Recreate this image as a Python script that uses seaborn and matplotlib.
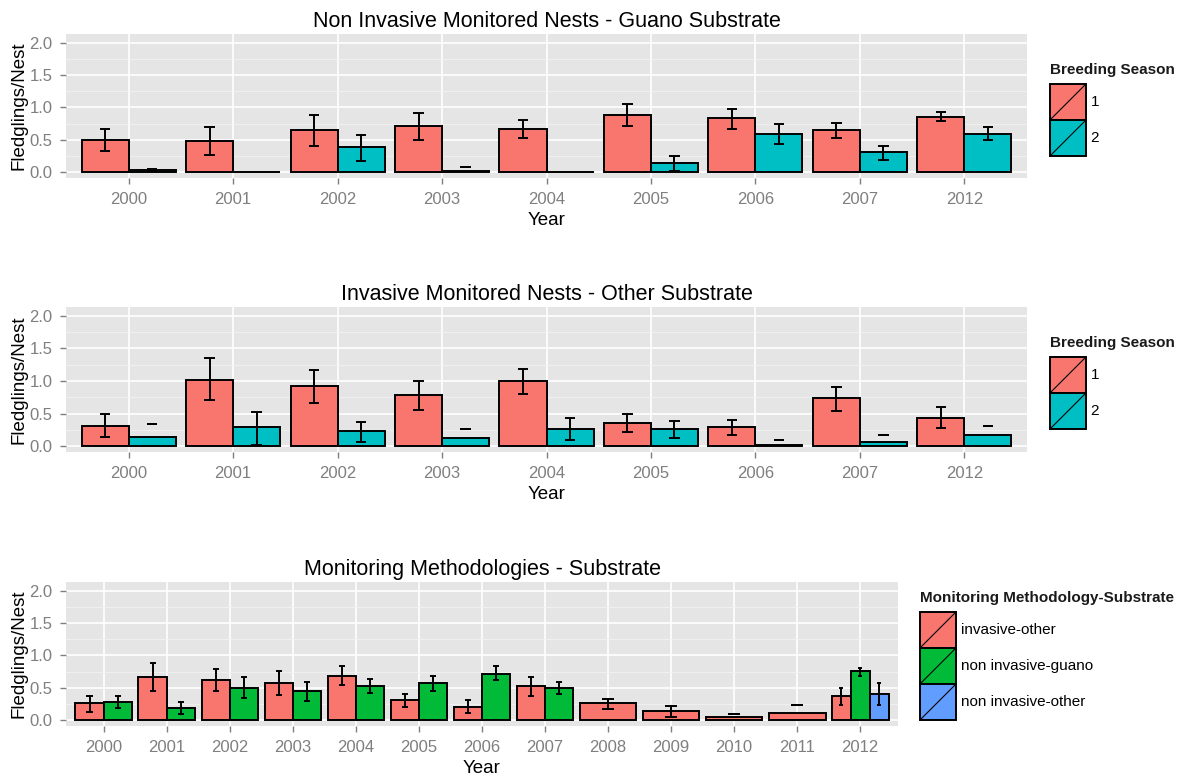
import numpy as np
import pandas as pd
import matplotlib
matplotlib.use("Agg")
import matplotlib.pyplot as plt
from matplotlib.legend_handler import HandlerBase
from matplotlib.patches import Rectangle, Patch
from matplotlib.lines import Line2D
from matplotlib.ticker import MultipleLocator, FormatStrFormatter
import seaborn as sns

nan = np.nan

# ---- Non invasive monitored nests, guano substrate ----
years_a = ["2000", "2001", "2002", "2003", "2004", "2005", "2006", "2007", "2012"]
guano_s1 = [0.50, 0.48, 0.65, 0.72, 0.67, 0.88, 0.84, 0.65, 0.86]
guano_s1_lo = [0.33, 0.27, 0.41, 0.50, 0.535, 0.715, 0.668, 0.53, 0.787]
guano_s1_hi = [0.67, 0.70, 0.884, 0.91, 0.80, 1.054, 0.982, 0.766, 0.936]
guano_s2 = [0.026, 0.0, 0.386, 0.025, 0.0, 0.144, 0.596, 0.314, 0.596]
guano_s2_lo = [0.02, nan, 0.17, 0.077, nan, 0.02, 0.43, 0.19, 0.504]
guano_s2_hi = [0.055, nan, 0.576, 0.077, nan, 0.247, 0.74, 0.41, 0.694]

# ---- Invasive monitored nests, other substrate ----
other_s1 = [0.308, 1.02, 0.923, 0.785, 0.995, 0.354, 0.287, 0.738, 0.431]
other_s1_lo = [0.144, 0.713, 0.662, 0.549, 0.805, 0.21, 0.164, 0.544, 0.282]
other_s1_hi = [0.497, 1.354, 1.164, 1.0, 1.185, 0.497, 0.405, 0.903, 0.595]
other_s2 = [0.144, 0.287, 0.236, 0.118, 0.256, 0.262, 0.022, 0.067, 0.164]
other_s2_lo = [0.333, 0.02, 0.067, 0.256, 0.092, 0.118, 0.097, 0.17, 0.308]
other_s2_hi = [0.333, 0.518, 0.374, 0.256, 0.426, 0.38, 0.097, 0.17, 0.308]

# ---- Monitoring methodology / substrate ----
years_b = ["2000", "2001", "2002", "2003", "2004", "2005", "2006",
           "2007", "2008", "2009", "2010", "2011", "2012"]
inv_other = [0.262, 0.663, 0.617, 0.571, 0.689, 0.308, 0.211, 0.524,
             0.262, 0.144, 0.046, 0.118, 0.38]
inv_other_lo = [0.123, 0.447, 0.447, 0.39, 0.54, 0.211, 0.118, 0.375,
                0.165, 0.046, 0.093, 0.237, 0.231]
inv_other_hi = [0.38, 0.879, 0.787, 0.761, 0.833, 0.406, 0.308, 0.668,
                0.334, 0.216, 0.093, 0.237, 0.499]
years_ng = ["2000", "2001", "2002", "2003", "2004", "2005", "2006", "2007", "2012"]
noninv_guano = [0.288, 0.19, 0.5, 0.452, 0.524, 0.571, 0.715, 0.5, 0.761]
noninv_guano_lo = [0.185, 0.093, 0.35, 0.303, 0.427, 0.452, 0.617, 0.401, 0.689]
noninv_guano_hi = [0.38, 0.288, 0.663, 0.596, 0.643, 0.689, 0.833, 0.591, 0.812]
years_no = ["2012"]
noninv_other = [0.406]
noninv_other_lo = [0.231]
noninv_other_hi = [0.571]

seasons = ["1", "2"]
methods = ["invasive-other", "non invasive-guano", "non invasive-other"]
pal2 = ["#F8766D", "#00BFC4"]
pal3 = ["#F8766D", "#00BA38", "#619CFF"]


def frame(parts):
    rows = []
    for grp, yrs, m, lo, hi in parts:
        for y, a, b, c in zip(yrs, m, lo, hi):
            rows.append(dict(Year=y, group=grp, value=a, lo=b, hi=c))
    return pd.DataFrame(rows)


df_a = frame([("1", years_a, guano_s1, guano_s1_lo, guano_s1_hi),
              ("2", years_a, guano_s2, guano_s2_lo, guano_s2_hi)])
df_b = frame([("1", years_a, other_s1, other_s1_lo, other_s1_hi),
              ("2", years_a, other_s2, other_s2_lo, other_s2_hi)])
df_c = frame([(methods[0], years_b, inv_other, inv_other_lo, inv_other_hi),
              (methods[1], years_ng, noninv_guano, noninv_guano_lo, noninv_guano_hi),
              (methods[2], years_no, noninv_other, noninv_other_lo, noninv_other_hi)])

plt.rcParams["font.family"] = ["Liberation Sans", "DejaVu Sans"]

fig = plt.figure(figsize=(11.85, 7.76), dpi=100)
W, H = 1185, 776


def px_axes(l, t, r, b):
    return fig.add_axes([l / W, 1 - b / H, (r - l) / W, (b - t) / H])


class DiagKey(HandlerBase):
    def create_artists(self, legend, orig, xd, yd, w, h, fs, trans):
        rect = Rectangle((-xd, -yd), w, h, facecolor=orig.get_facecolor(),
                         edgecolor="black", lw=1.4, transform=trans)
        diag = Line2D([-xd, -xd + w], [-yd, -yd + h], color="black",
                      lw=0.8, transform=trans)
        return [rect, diag]


def draw_panel(ax, df, order, hue_order, palette, title):
    sns.barplot(data=df, x="Year", y="value", hue="group", order=order,
                hue_order=hue_order, palette=palette, saturation=1,
                dodge=True, width=0.9, errorbar=None, edgecolor="black",
                linewidth=1.4, legend=False, ax=ax, zorder=3)
    # regroup bars so each year shares its 0.9 slot among present groups
    per_cat = {}
    for hi_, cont in enumerate(ax.containers):
        for p in cont.patches:
            cx = p.get_x() + p.get_width() / 2
            per_cat.setdefault(int(round(cx)), []).append((hi_, p))
    for cat, items in per_cat.items():
        items.sort(key=lambda t: t[0])
        n = len(items)
        w = 0.9 / n
        for k, (hi_, p) in enumerate(items):
            x0 = cat - 0.45 + k * w
            p.set_x(x0)
            p.set_width(w)
            row = df[(df.Year == order[cat]) & (df.group == hue_order[hi_])].iloc[0]
            if np.isnan(row.lo):
                continue
            xc = x0 + w / 2
            cap = 0.1 / n
            ax.vlines(xc, row.lo, row.hi, color="black", lw=1.4, zorder=4)
            ax.hlines([row.lo, row.hi], xc - cap, xc + cap, color="black",
                      lw=1.4, zorder=4)
    ax.set_xlim(-0.6, len(order) - 0.4)
    ax.set_ylim(-0.09, 2.135)
    ax.set_facecolor("#E5E5E5")
    for s in ax.spines.values():
        s.set_visible(False)
    ax.set_axisbelow(True)
    ax.yaxis.set_major_locator(MultipleLocator(0.5))
    ax.yaxis.set_minor_locator(MultipleLocator(0.25))
    ax.yaxis.set_major_formatter(FormatStrFormatter("%.1f"))
    ax.grid(which="major", color="white", lw=1.2, zorder=0)
    ax.grid(which="minor", axis="y", color="#F2F2F2", lw=0.6, zorder=0)
    ax.tick_params(which="major", length=4.3, width=1, color="#7F7F7F",
                   labelcolor="#7F7F7F", labelsize=12, pad=5.5)
    ax.tick_params(which="minor", length=0)
    ax.set_xlabel("Year", fontsize=13.5, labelpad=4)
    ax.set_ylabel("Fledglings/Nest", fontsize=13.5, labelpad=1)
    ax.set_title(title, fontsize=15.5, pad=5)


def add_legend(title, labels, palette, left, top):
    handles = [Patch(facecolor=c) for c in palette]
    leg = fig.legend(handles, labels, title=title, loc="upper left",
                     bbox_to_anchor=(left / W, 1 - top / H), frameon=False,
                     handler_map={Patch: DiagKey()}, fontsize=11,
                     title_fontproperties={"weight": "bold", "size": 11},
                     handlelength=2.356, handleheight=3.25, labelspacing=0,
                     handletextpad=0.3, borderpad=0, borderaxespad=0,
                     alignment="left")
    leg.get_title().set_color("#1A1A1A")
    leg._legend_box.sep = 5
    return leg


ax1 = px_axes(66, 34, 1027, 178)
draw_panel(ax1, df_a, years_a, seasons, pal2,
           "Non Invasive Monitored Nests - Guano Substrate")
ax2 = px_axes(66, 307, 1027, 452)
draw_panel(ax2, df_b, years_a, seasons, pal2,
           "Invasive Monitored Nests - Other Substrate")
ax3 = px_axes(66, 582, 898, 726)
draw_panel(ax3, df_c, years_b, methods, pal3,
           "Monitoring Methodologies - Substrate")

add_legend("Breeding Season", seasons, pal2, 1050, 63)
add_legend("Breeding Season", seasons, pal2, 1050, 336)
add_legend("Monitoring Methodology-Substrate", methods, pal3, 920, 591)

fig.savefig("out.png", dpi=100)
